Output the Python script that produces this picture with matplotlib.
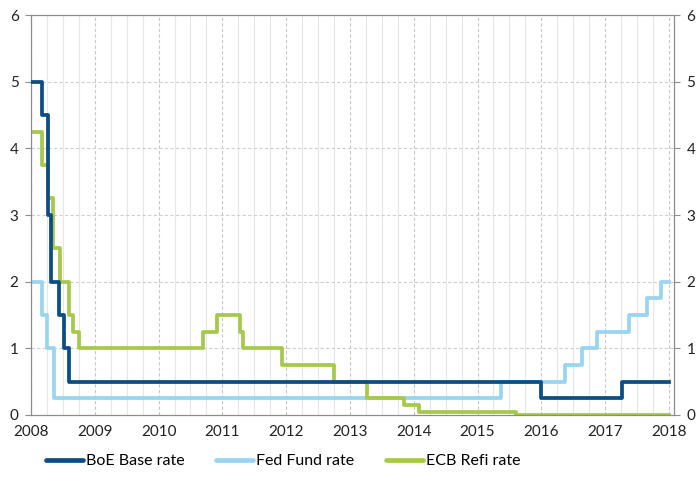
import matplotlib
matplotlib.use("Agg")
import matplotlib.pyplot as plt
import numpy as np

# change dates (decimal years) and the rate that holds from each date on
boe_dates = [2008.0, 2008.18, 2008.27, 2008.32, 2008.44, 2008.52, 2008.60, 2016.0, 2017.26, 2018.0]
boe_rates = [5.0, 4.5, 3.0, 2.0, 1.5, 1.0, 0.5, 0.25, 0.5, 0.5]

fed_dates = [2008.0, 2008.18, 2008.25, 2008.36, 2015.37, 2016.37, 2016.63, 2016.88, 2017.38, 2017.65, 2017.88, 2018.0]
fed_rates = [2.0, 1.5, 1.0, 0.25, 0.5, 0.75, 1.0, 1.25, 1.5, 1.75, 2.0, 2.0]

ecb_dates = [2008.0, 2008.18, 2008.27, 2008.35, 2008.46, 2008.60, 2008.66, 2008.76, 2010.69, 2010.92,
             2011.28, 2011.33, 2011.93, 2012.75, 2013.27, 2013.84, 2014.09, 2015.61, 2018.0]
ecb_rates = [4.25, 3.75, 3.25, 2.5, 2.0, 1.5, 1.25, 1.0, 1.25, 1.5,
             1.25, 1.0, 0.75, 0.5, 0.25, 0.15, 0.05, 0.0, 0.0]

years = list(range(2008, 2019))
yticks = [0, 1, 2, 3, 4, 5, 6]

plt.rcParams['font.family'] = ['Lato', 'DejaVu Sans']

fig = plt.figure(figsize=(6.99, 4.93), dpi=100)
ax = fig.add_axes([31 / 699, 1 - 415 / 493, 643 / 699, 400 / 493])

# quarterly grid, then dashed year and level lines
for q in np.arange(2008, 2018.01, 0.25):
    if abs(q - round(q)) < 1e-6:
        ax.axvline(q, color="#c8c8c8", lw=0.8, ls=(0, (3, 2)), zorder=1)
    else:
        ax.axvline(q, color="#e6e6e6", lw=0.8, zorder=1)
for v in yticks[1:-1]:
    ax.axhline(v, color="#cfcfcf", lw=0.8, ls=(0, (3, 2)), zorder=1)

lines = []
lines += ax.plot(boe_dates, boe_rates, drawstyle="steps-post", color="#0b4d84", lw=2.7, label="BoE Base rate", zorder=3)
lines += ax.plot(fed_dates, fed_rates, drawstyle="steps-post", color="#9bd4f0", lw=2.7, label="Fed Fund rate", zorder=2)
lines += ax.plot(ecb_dates, ecb_rates, drawstyle="steps-post", color="#a6c94b", lw=2.7, label="ECB Refi rate", zorder=2)

ax.set_xlim(2008, 2018.08)
ax.set_ylim(0, 6)
ax.set_xticks(years)
ax.set_xticklabels([str(y) for y in years])
ax.set_yticks(yticks)

for side in ["left", "right", "top", "bottom"]:
    ax.spines[side].set_color("#8c8c8c")
    ax.spines[side].set_linewidth(0.9)

ax.tick_params(axis="y", which="both", left=True, right=True, labelleft=True, labelright=True,
               length=4, color="#8c8c8c", labelsize=11, labelcolor="#222222", pad=5)
ax.tick_params(axis="x", length=0, labelsize=11, labelcolor="#222222", pad=7)

# one legend entry per slot, spaced like the original
for i, ln in enumerate(lines):
    leg = fig.legend(handles=[ln], loc="center left", bbox_to_anchor=((46 + 170 * i) / 699, 1 - 461 / 493),
                     frameon=False, fontsize=11.5, handlelength=2.3, handletextpad=0.2, borderaxespad=0,
                     borderpad=0)
    for h in leg.get_lines():
        h.set_linewidth(3.4)
        h.set_solid_capstyle("round")

fig.savefig("out.png", dpi=100)
